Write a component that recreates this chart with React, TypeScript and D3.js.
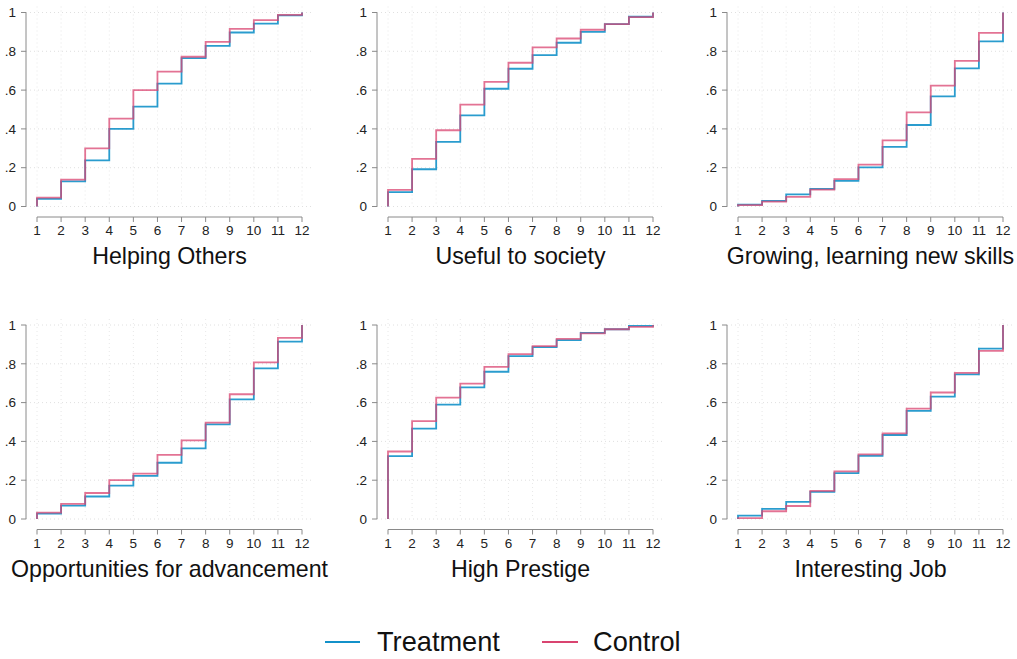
import React from "react";
import * as d3 from "d3";

const titles = [
  "Helping Others",
  "Useful to society",
  "Growing, learning new skills",
  "Opportunities for advancement",
  "High Prestige",
  "Interesting Job",
];

const xTicks = [1, 2, 3, 4, 5, 6, 7, 8, 9, 10, 11, 12];
const yTicks = [0, 0.2, 0.4, 0.6, 0.8, 1];
const yTickLabels = ["0", ".2", ".4", ".6", ".8", "1"];

// cumulative share at ranks 1..11 (rank 12 = 1)
const treatment = [
  [0.039, 0.129, 0.238, 0.4, 0.515, 0.633, 0.765, 0.828, 0.897, 0.943, 0.985],
  [0.074, 0.192, 0.333, 0.47, 0.607, 0.71, 0.78, 0.844, 0.9, 0.94, 0.978],
  [0.01, 0.029, 0.063, 0.091, 0.132, 0.202, 0.307, 0.42, 0.568, 0.712, 0.851],
  [0.028, 0.069, 0.116, 0.172, 0.222, 0.29, 0.364, 0.488, 0.617, 0.776, 0.914],
  [0.324, 0.466, 0.59, 0.678, 0.759, 0.84, 0.886, 0.922, 0.959, 0.978, 0.995],
  [0.017, 0.052, 0.088, 0.14, 0.236, 0.326, 0.433, 0.557, 0.631, 0.745, 0.878],
];
const control = [
  [0.046, 0.139, 0.3, 0.453, 0.6, 0.695, 0.772, 0.849, 0.916, 0.961, 0.988],
  [0.086, 0.245, 0.393, 0.525, 0.642, 0.741, 0.82, 0.866, 0.911, 0.94, 0.976],
  [0.007, 0.025, 0.05, 0.087, 0.141, 0.216, 0.341, 0.485, 0.623, 0.751, 0.895],
  [0.033, 0.078, 0.134, 0.2, 0.234, 0.331, 0.405, 0.497, 0.643, 0.807, 0.934],
  [0.348, 0.505, 0.626, 0.698, 0.784, 0.85, 0.891, 0.928, 0.957, 0.978, 0.99],
  [0.005, 0.04, 0.067, 0.145, 0.245, 0.333, 0.441, 0.569, 0.652, 0.753, 0.867],
];

const seriesNames = ["Treatment", "Control"];
const colors = ["#1391c9", "#d94470"];

const W = 1017;
const H = 659;
const colX = [37, 388, 738];
const rowY = [12.5, 325];
const pw = 265;
const ph = 194;
const font = "'Liberation Sans', Arial, sans-serif";

function Panel({ idx }: { idx: number }) {
  const col = idx % 3;
  const row = Math.floor(idx / 3);
  const x0 = colX[col];
  const y0 = rowY[row];
  const x = d3.scaleLinear().domain([1, 12]).range([x0, x0 + pw]);
  const y = d3.scaleLinear().domain([0, 1]).range([y0 + ph, y0]);
  const axisX = x0 - 11;
  const axisY = y0 + ph + 10.5;
  const gridRight = x0 + pw + 11;

  const line = d3
    .line<{ x: number; y: number }>()
    .x((d) => x(d.x))
    .y((d) => y(d.y))
    .curve(d3.curveStepAfter);

  const mk = (vals: number[]) => [
    { x: 1, y: 0 },
    ...vals.map((v, i) => ({ x: xTicks[i], y: v })),
    { x: 12, y: 1 },
  ];

  return (
    <g>
      {yTicks.map((t) => (
        <line
          key={"gy" + t}
          x1={axisX}
          x2={gridRight}
          y1={y(t)}
          y2={y(t)}
          stroke="#d8d8d8"
          strokeWidth={0.8}
          strokeDasharray="1 3"
        />
      ))}
      {xTicks.map((t) => (
        <line
          key={"gx" + t}
          x1={x(t)}
          x2={x(t)}
          y1={y(1) - 6}
          y2={y(0)}
          stroke="#e2e2e2"
          strokeWidth={0.8}
          strokeDasharray="1 3"
        />
      ))}
      <line x1={axisX} x2={axisX} y1={y(0)} y2={y(1)} stroke="#8a8a8a" strokeWidth={1} />
      {yTicks.map((t, i) => (
        <g key={"yt" + t}>
          <line x1={axisX - 5} x2={axisX} y1={y(t)} y2={y(t)} stroke="#8a8a8a" strokeWidth={1} />
          <text
            x={axisX - 10}
            y={y(t)}
            dy="0.35em"
            textAnchor="end"
            fontFamily={font}
            fontSize={13.5}
            fill="#222"
          >
            {yTickLabels[i]}
          </text>
        </g>
      ))}
      <line x1={x(1)} x2={x(12)} y1={axisY} y2={axisY} stroke="#8a8a8a" strokeWidth={1} />
      {xTicks.map((t) => (
        <g key={"xt" + t}>
          <line x1={x(t)} x2={x(t)} y1={axisY} y2={axisY + 5} stroke="#8a8a8a" strokeWidth={1} />
          <text
            x={x(t)}
            y={axisY + 18}
            textAnchor="middle"
            fontFamily={font}
            fontSize={13.5}
            fill="#222"
          >
            {t}
          </text>
        </g>
      ))}
      <path d={line(mk(treatment[idx])) || ""} fill="none" stroke={colors[0]} strokeWidth={1.8} strokeOpacity={0.9} />
      <path d={line(mk(control[idx])) || ""} fill="none" stroke={colors[1]} strokeWidth={1.8} strokeOpacity={0.75} />
      <text
        x={(x(1) + x(12)) / 2}
        y={axisY + 47}
        textAnchor="middle"
        fontFamily={font}
        fontSize={23.2}
        fill="#111"
      >
        {titles[idx]}
      </text>
    </g>
  );
}

export default function App() {
  const legendItems = [
    { x1: 325, x2: 360, tx: 377 },
    { x1: 542, x2: 578, tx: 593 },
  ];
  return (
    <svg
      width={W}
      height={H}
      style={{ position: "absolute", left: 0, top: 0, background: "#fff" }}
    >
      <rect x={0} y={0} width={W} height={H} fill="#fff" />
      {titles.map((_, i) => (
        <Panel key={i} idx={i} />
      ))}
      {legendItems.map((l, i) => (
        <g key={i}>
          <line x1={l.x1} x2={l.x2} y1={642} y2={642} stroke={colors[i]} strokeWidth={2.2} />
          <text x={l.tx} y={651} fontFamily={font} fontSize={27.2} fill="#111">
            {seriesNames[i]}
          </text>
        </g>
      ))}
    </svg>
  );
}
